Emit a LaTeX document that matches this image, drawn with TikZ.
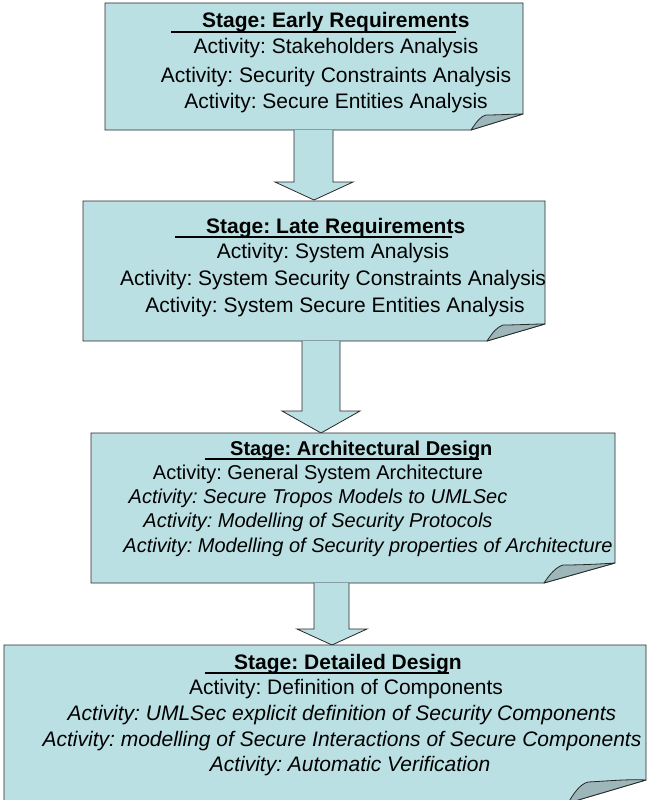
\documentclass[tikz,border=0pt]{standalone}
\usepackage{fontspec}
\setmainfont{Liberation Sans}
\definecolor{stagecol}{RGB}{187,224,227}
\definecolor{foldcol}{RGB}{156,182,185}
\definecolor{edgecol}{RGB}{40,40,40}
\newcommand\ulhead[2]{\setbox0\hbox{\hspace*{#1}#2}\rlap{\rule[-4.6pt]{\dimexpr\wd0-13pt\relax}{1.2pt}}\box0}
\begin{document}
\frenchspacing
\begin{tikzpicture}[x=1pt,y=-1pt,
  boxshape/.style={fill=stagecol, draw=edgecol, line width=0.8pt, line join=miter},
  foldshape/.style={fill=foldcol, draw=edgecol, line width=0.8pt, line join=round},
  blockarrow/.style={fill=stagecol, draw=edgecol, line width=0.8pt},
  headline/.style={anchor=base west, inner sep=0pt, font=\fontsize{21}{25}\selectfont\bfseries},
  bodyline/.style={anchor=base, inner sep=0pt, font=\fontsize{21}{25}\selectfont},
  ibodyline/.style={anchor=base, inner sep=0pt, font=\fontsize{21}{25}\selectfont\itshape},
  sheadline/.style={anchor=base west, inner sep=0pt, font=\fontsize{20}{24}\selectfont\bfseries},
  sbodyline/.style={anchor=base, inner sep=0pt, font=\fontsize{20}{24}\selectfont},
  sibodyline/.style={anchor=base, inner sep=0pt, font=\fontsize{20}{24}\selectfont\itshape},
]
\useasboundingbox (0,0) rectangle (648,800);
\clip (0,0) rectangle (648,800);

% ---------- Box 1 ----------
\draw[boxshape] (105,3) -- (523,3) -- (523,114) -- (471,130) -- (105,130) -- cycle;
\draw[foldshape] (471,130) .. controls (477,121) and (481,116) .. (486,115) .. controls (500,115) and (512,114) .. (523,114) -- cycle;
\node[headline] (h1) at (171,28) {\ulhead{31pt}{Stage: Early Requirements}};
\node[bodyline] (a11) at (336,54) {Activity: Stakeholders Analysis};
\node[bodyline] (a12) at (336,82) {Activity: Security Constraints Analysis};
\node[bodyline] (a13) at (336,108) {Activity: Secure Entities Analysis};

% ---------- Arrow 1 ----------
\coordinate (s1) at (314,130);
\coordinate (t1) at (314,200);
\draw[blockarrow] (294,130) -- (294,182) -- (275,182) -- (t1) -- (353,182) -- (333,182) -- (333,130);

% ---------- Box 2 ----------
\draw[boxshape] (83,201) -- (545,201) -- (545,324) -- (487,341) -- (83,341) -- cycle;
\draw[foldshape] (487,341) .. controls (493,332) and (497,327) .. (503,325) .. controls (518,325) and (532,324) .. (545,324) -- cycle;
\node[headline] (h2) at (175,233) {\ulhead{31pt}{Stage: Late Requirements}};
\node[bodyline] (a21) at (333,258) {Activity: System Analysis};
\node[bodyline] (a22) at (333,285) {Activity: System Security Constraints Analysis};
\node[bodyline] (a23) at (335,312) {Activity: System Secure Entities Analysis};

% ---------- Arrow 2 ----------
\coordinate (s2) at (321,341);
\coordinate (t2) at (321,433);
\draw[blockarrow] (302,341) -- (302,411) -- (282,411) -- (t2) -- (360,411) -- (340,411) -- (340,341);

% ---------- Box 3 ----------
\draw[boxshape] (91,433) -- (615,433) -- (615,563) -- (544,583) -- (91,583) -- cycle;
\draw[foldshape] (544,583) .. controls (550,574) and (556,567) .. (563,565) .. controls (582,565) and (600,564) .. (615,563) -- cycle;
\node[sheadline] (h3) at (205,455) {\ulhead{25pt}{Stage: Architectural Design}};
\node[sbodyline] (a31) at (318,479) {Activity: General System Architecture};
\node[sibodyline] (a32) at (318,503) {Activity: Secure Tropos Models to UMLSec};
\node[sibodyline] (a33) at (318,527) {Activity: Modelling of Security Protocols};
\node[sibodyline] (a34) at (368,552) {Activity: Modelling of Security properties of Architecture};

% ---------- Arrow 3 ----------
\coordinate (s3) at (332,583);
\coordinate (t3) at (332,645);
\draw[blockarrow] (314,583) -- (314,629) -- (297,629) -- (t3) -- (367,629) -- (349,629) -- (349,583);

% ---------- Box 4 ----------
\draw[boxshape] (4,645) -- (646,645) -- (646,780) -- (568,803) -- (4,803) -- cycle;
\draw[foldshape] (568,803) .. controls (574,793) and (580,784) .. (588,782) .. controls (608,781) and (628,779) .. (646,780) -- cycle;
\node[headline] (h4) at (205,669) {\ulhead{29pt}{Stage: Detailed Design}};
\node[bodyline] (a41) at (346,694) {Activity: Definition of Components};
\node[ibodyline] (a42) at (342,720) {Activity: UMLSec explicit definition of Security Components};
\node[ibodyline] (a43) at (342,746) {Activity: modelling of Secure Interactions of Secure Components};
\node[ibodyline] (a44) at (350,771) {Activity: Automatic Verification};
\end{tikzpicture}
\end{document}
